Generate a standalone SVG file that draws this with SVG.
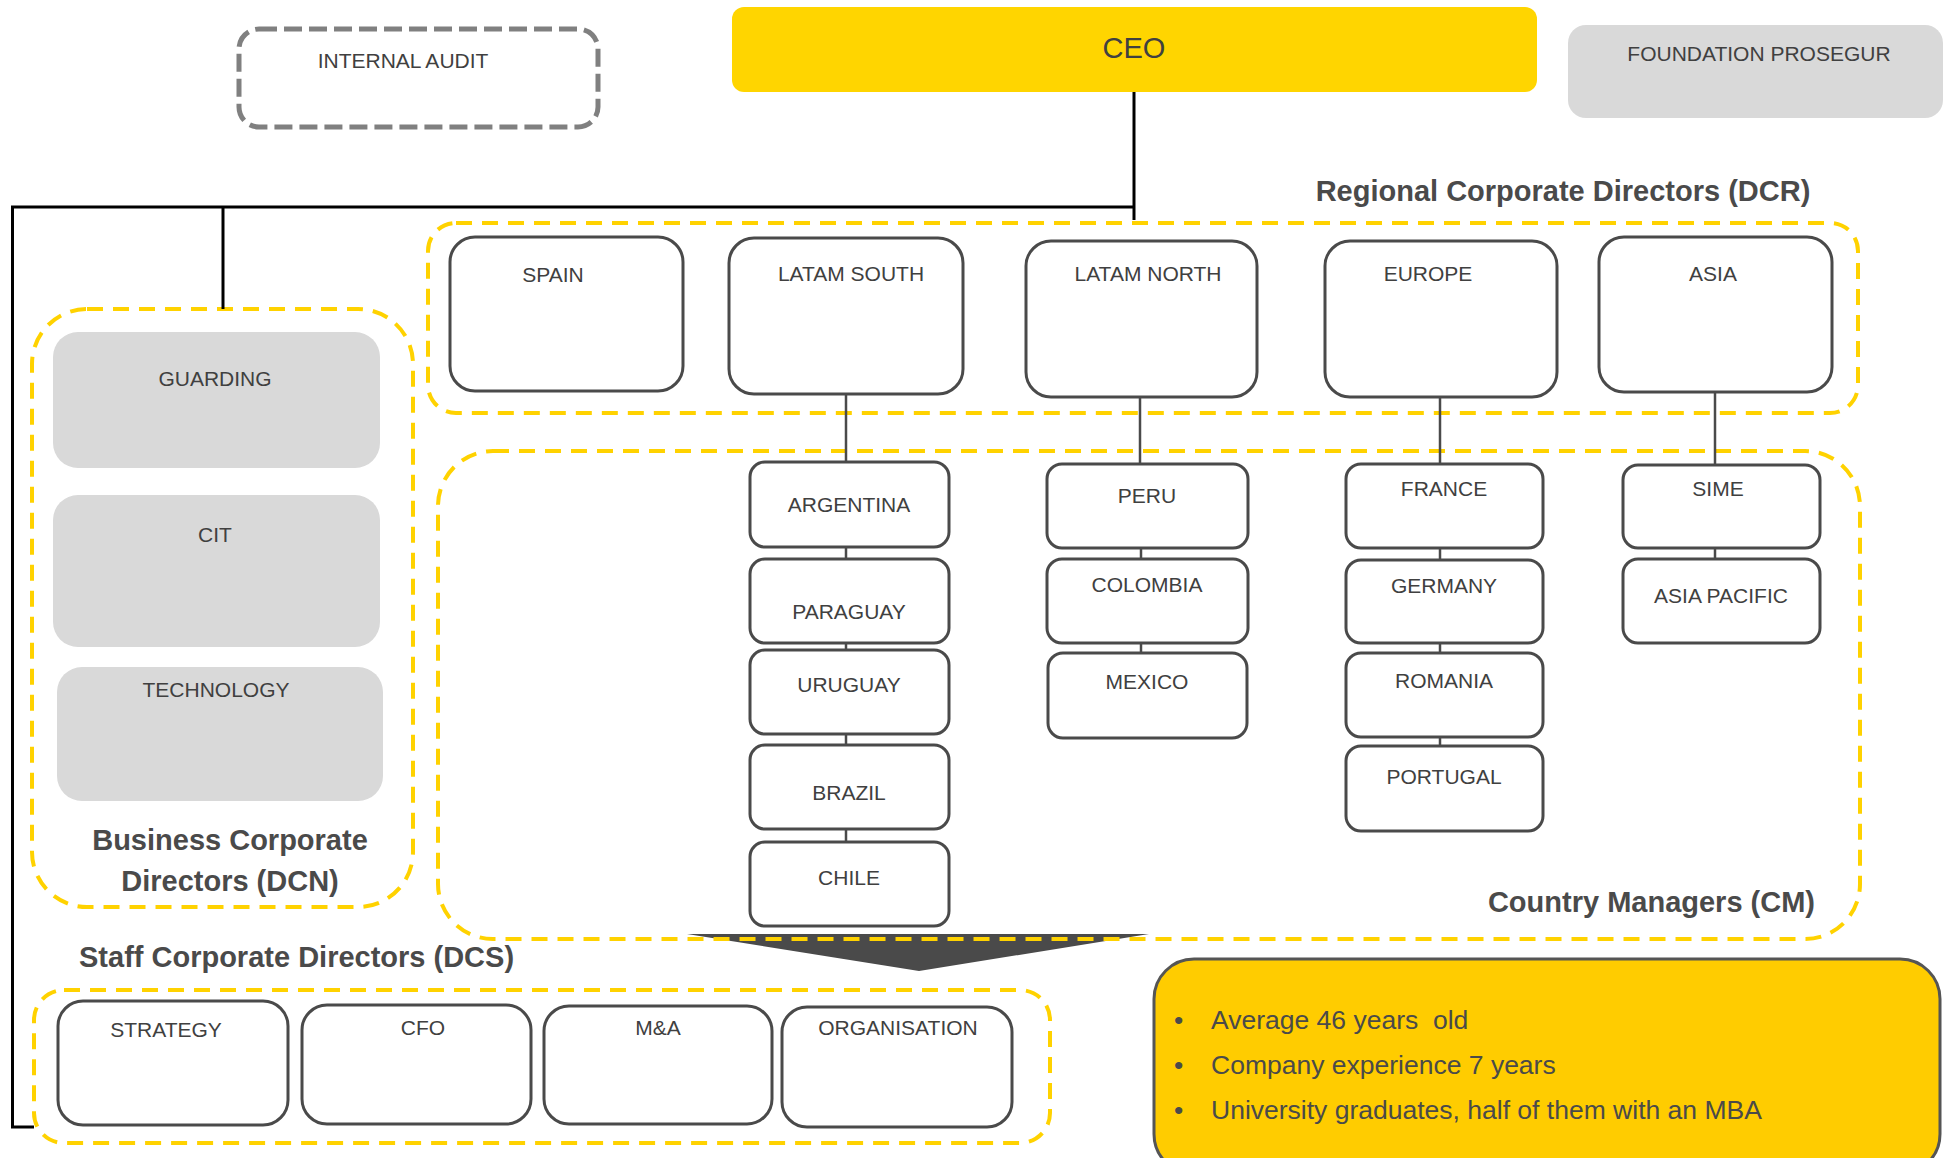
<svg xmlns="http://www.w3.org/2000/svg" width="1948" height="1158" viewBox="0 0 1948 1158">
<style>
text{font-family:"Liberation Sans",Arial,sans-serif;fill:#404040;text-anchor:middle}
.lbl{font-size:21px}
.title{font-size:29px;font-weight:bold;fill:#4a4a4a}
.box{fill:#fff;stroke:#4a4a4a;stroke-width:3}
.gbox{fill:#d9d9d9;stroke:none}
.grp{fill:none;stroke:#ffd200;stroke-width:4;stroke-dasharray:16 10}
.blk{fill:none;stroke:#000;stroke-width:3}
.con{fill:none;stroke:#4a4a4a;stroke-width:2.5}
.bul{font-size:26.5px;text-anchor:start;fill:#4a4a4a;white-space:pre}
</style>
<rect width="1948" height="1158" fill="#fff"/>

<g id="groups">
<rect x="428" y="223" width="1430" height="190" rx="28" class="grp"/>
<rect x="32" y="309" width="381" height="598" rx="55" class="grp"/>
<polygon points="687,934 1149,934 919,971" fill="#4a4a4a"/>
<rect x="438" y="451" width="1422" height="488" rx="55" class="grp"/>
<rect x="34" y="990" width="1016" height="153" rx="30" class="grp"/>
</g>

<g id="connectors">
<polyline class="blk" points="1134,92 1134,220"/>
<polyline class="blk" points="1135,207 12.5,207 12.5,1127 34,1127"/>
<polyline class="blk" points="223,207 223,309"/>
<line class="con" x1="846" y1="394" x2="846" y2="462"/>
<line class="con" x1="1140" y1="397" x2="1140" y2="464"/>
<line class="con" x1="1440" y1="397" x2="1440" y2="464"/>
<line class="con" x1="1715" y1="392" x2="1715" y2="465"/>
<line class="con" x1="846" y1="547" x2="846" y2="559"/>
<line class="con" x1="846" y1="643" x2="846" y2="650"/>
<line class="con" x1="846" y1="734" x2="846" y2="745"/>
<line class="con" x1="846" y1="829" x2="846" y2="842"/>
<line class="con" x1="1141" y1="548" x2="1141" y2="559"/>
<line class="con" x1="1141" y1="643" x2="1141" y2="653"/>
<line class="con" x1="1440" y1="548" x2="1440" y2="560"/>
<line class="con" x1="1440" y1="643" x2="1440" y2="653"/>
<line class="con" x1="1440" y1="737" x2="1440" y2="746"/>
<line class="con" x1="1715" y1="548" x2="1715" y2="559"/>
</g>

<g id="internal-audit">
<rect x="239" y="29" width="359" height="98" rx="20" fill="none" stroke="#808080" stroke-width="5" stroke-dasharray="18 7"/>
<text class="lbl" x="403" y="68">INTERNAL AUDIT</text>
</g>
<g id="ceo">
<rect x="732" y="7" width="805" height="85" rx="12" fill="#ffd500"/>
<text x="1134" y="58" font-size="29">CEO</text>
</g>
<g id="foundation">
<rect x="1568" y="25" width="375" height="93" rx="18" class="gbox"/>
<text class="lbl" x="1759" y="61">FOUNDATION PROSEGUR</text>
</g>

<text class="title" x="1563" y="201">Regional Corporate Directors (DCR)</text>
<g id="spain"><rect x="450" y="237" width="233" height="154" rx="25" class="box"/><text class="lbl" x="553" y="282">SPAIN</text></g>
<g id="latam-south"><rect x="729" y="238" width="234" height="156" rx="25" class="box"/><text class="lbl" x="851" y="281">LATAM SOUTH</text></g>
<g id="latam-north"><rect x="1026" y="241" width="231" height="156" rx="25" class="box"/><text class="lbl" x="1148" y="281">LATAM NORTH</text></g>
<g id="europe"><rect x="1325" y="241" width="232" height="156" rx="25" class="box"/><text class="lbl" x="1428" y="281">EUROPE</text></g>
<g id="asia"><rect x="1599" y="237" width="233" height="155" rx="25" class="box"/><text class="lbl" x="1713" y="281">ASIA</text></g>

<g id="guarding"><rect x="53" y="332" width="327" height="136" rx="25" class="gbox"/><text class="lbl" x="215" y="386">GUARDING</text></g>
<g id="cit"><rect x="53" y="495" width="327" height="152" rx="25" class="gbox"/><text class="lbl" x="215" y="542">CIT</text></g>
<g id="technology"><rect x="57" y="667" width="326" height="134" rx="25" class="gbox"/><text class="lbl" x="216" y="697">TECHNOLOGY</text></g>
<text class="title" x="230" y="850">Business Corporate</text>
<text class="title" x="230" y="891">Directors (DCN)</text>

<g id="argentina"><rect x="750" y="462" width="199" height="85" rx="15" class="box"/><text class="lbl" x="849" y="512">ARGENTINA</text></g>
<g id="paraguay"><rect x="750" y="559" width="199" height="84" rx="15" class="box"/><text class="lbl" x="849" y="619">PARAGUAY</text></g>
<g id="uruguay"><rect x="750" y="650" width="199" height="84" rx="15" class="box"/><text class="lbl" x="849" y="692">URUGUAY</text></g>
<g id="brazil"><rect x="750" y="745" width="199" height="84" rx="15" class="box"/><text class="lbl" x="849" y="800">BRAZIL</text></g>
<g id="chile"><rect x="750" y="842" width="199" height="84" rx="15" class="box"/><text class="lbl" x="849" y="885">CHILE</text></g>

<g id="peru"><rect x="1047" y="464" width="201" height="84" rx="15" class="box"/><text class="lbl" x="1147" y="503">PERU</text></g>
<g id="colombia"><rect x="1047" y="559" width="201" height="84" rx="15" class="box"/><text class="lbl" x="1147" y="592">COLOMBIA</text></g>
<g id="mexico"><rect x="1048" y="653" width="199" height="85" rx="15" class="box"/><text class="lbl" x="1147" y="689">MEXICO</text></g>

<g id="france"><rect x="1346" y="464" width="197" height="84" rx="15" class="box"/><text class="lbl" x="1444" y="496">FRANCE</text></g>
<g id="germany"><rect x="1346" y="560" width="197" height="83" rx="15" class="box"/><text class="lbl" x="1444" y="593">GERMANY</text></g>
<g id="romania"><rect x="1346" y="653" width="197" height="84" rx="15" class="box"/><text class="lbl" x="1444" y="688">ROMANIA</text></g>
<g id="portugal"><rect x="1346" y="746" width="197" height="85" rx="15" class="box"/><text class="lbl" x="1444" y="784">PORTUGAL</text></g>

<g id="sime"><rect x="1623" y="465" width="197" height="83" rx="15" class="box"/><text class="lbl" x="1718" y="496">SIME</text></g>
<g id="asia-pacific"><rect x="1623" y="559" width="197" height="84" rx="15" class="box"/><text class="lbl" x="1721" y="603">ASIA PACIFIC</text></g>

<text class="title" x="1815" y="912" style="text-anchor:end">Country Managers (CM)</text>

<text class="title" x="79" y="967" style="text-anchor:start">Staff Corporate Directors (DCS)</text>
<g id="strategy"><rect x="58" y="1001" width="230" height="124" rx="25" class="box"/><text class="lbl" x="166" y="1037">STRATEGY</text></g>
<g id="cfo"><rect x="302" y="1005" width="229" height="119" rx="25" class="box"/><text class="lbl" x="423" y="1035">CFO</text></g>
<g id="ma"><rect x="544" y="1006" width="228" height="118" rx="25" class="box"/><text class="lbl" x="658" y="1035">M&amp;A</text></g>
<g id="organisation"><rect x="782" y="1007" width="230" height="120" rx="25" class="box"/><text class="lbl" x="898" y="1035">ORGANISATION</text></g>

<g id="info">
<rect x="1154" y="959" width="786" height="215" rx="40" fill="#ffcc00" stroke="#555" stroke-width="3"/>
<text class="bul" x="1174" y="1029">•</text><text class="bul" x="1211" y="1029">Average 46 years  old</text>
<text class="bul" x="1174" y="1074">•</text><text class="bul" x="1211" y="1074">Company experience 7 years</text>
<text class="bul" x="1174" y="1119">•</text><text class="bul" x="1211" y="1119">University graduates, half of them with an MBA</text>
</g>
</svg>
